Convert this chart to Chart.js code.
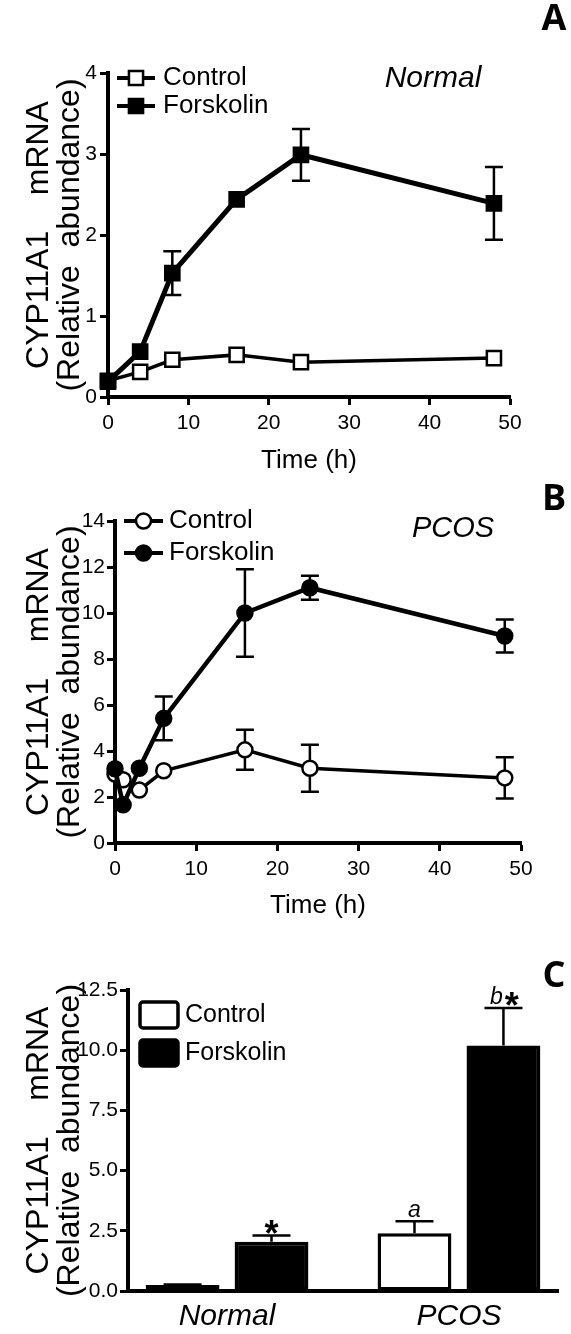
<!DOCTYPE html>
<html>
<head>
<meta charset="utf-8">
<script src="https://cdn.jsdelivr.net/npm/chart.js@4.4.1/dist/chart.umd.min.js"></script>
<style>
  body { margin: 0; background: #fff; width: 571px; height: 1334px; position: relative; overflow: hidden; }
  canvas { position: absolute; left: 0; }
</style>
</head>
<body>
<canvas id="chartA" width="571" height="480" style="top:0px"></canvas>
<canvas id="chartB" width="571" height="445" style="top:480px"></canvas>
<canvas id="chartC" width="571" height="409" style="top:925px"></canvas>
<script>
// Panel A - Normal
const timesA = [0, 4, 8, 16, 24, 48];
const controlA = [0.20, 0.31, 0.46, 0.52, 0.43, 0.48];
const controlAErr = [0.03, 0.03, 0.04, 0.04, 0.04, 0.04];
const forskolinA = [0.19, 0.56, 1.53, 2.44, 2.99, 2.39];
const forskolinAErr = [0.03, 0.05, 0.27, 0.05, 0.32, 0.45];

// Panel B - PCOS
const timesB = [0, 1, 3, 6, 16, 24, 48];
const controlB = [3.0, 2.75, 2.3, 3.14, 4.05, 3.25, 2.83];
const controlBErr = [0.2, 0.25, 0.2, 0.15, 0.87, 1.02, 0.9];
const forskolinB = [3.23, 1.66, 3.25, 5.42, 10.0, 11.1, 9.0];
const forskolinBErr = [0.2, 0.2, 0.2, 0.95, 1.9, 0.52, 0.72];

// Panel C - bars
const groupsC = ['Normal', 'PCOS'];
const controlC = [0.25, 2.4];
const controlCErr = [0.02, 0.5];
const controlCMarks = ['', 'a'];
const forskolinC = [2.05, 10.2];
const forskolinCErr = [0.25, 1.55];
const forskolinCMarks = ['*', 'b*'];

const SANS = "'Liberation Sans', Arial, sans-serif";
const yTitle = ['CYP11A1    mRNA', '(Relative  abundance)'];

function drawMark(ctx, style, x, y, r, fill, bw) {
  ctx.beginPath();
  if (style === 'rect') {
    const s = r * Math.SQRT1_2;
    ctx.rect(x - s, y - s, 2 * s, 2 * s);
  } else {
    ctx.arc(x, y, r, 0, Math.PI * 2);
  }
  ctx.fillStyle = fill;
  ctx.fill();
  ctx.lineWidth = bw;
  ctx.strokeStyle = '#000';
  ctx.stroke();
}

// error bars, drawn under the markers
const errorBars = {
  id: 'errorBars',
  beforeDatasetsDraw(chart, args, o) {
    const ctx = chart.ctx, ys = chart.scales.y;
    ctx.save();
    ctx.strokeStyle = '#000';
    ctx.lineWidth = o.width;
    chart.data.datasets.forEach((ds, i) => {
      chart.getDatasetMeta(i).data.forEach((el, j) => {
        const v = ds.data[j].y;
        const hi = ys.getPixelForValue(v + ds.errors[j]);
        const lo = o.upOnly ? el.y : ys.getPixelForValue(v - ds.errors[j]);
        if (el.y - hi < o.hide) return;
        const h = o.cap / 2;
        ctx.beginPath();
        ctx.moveTo(el.x, hi); ctx.lineTo(el.x, lo);
        ctx.moveTo(el.x - h, hi); ctx.lineTo(el.x + h, hi);
        if (!o.upOnly) { ctx.moveTo(el.x - h, lo); ctx.lineTo(el.x + h, lo); }
        ctx.stroke();
      });
    });
    ctx.restore();
  }
};

// legend: line + marker, or box
const keys = {
  id: 'keys',
  afterDraw(chart, args, o) {
    const ctx = chart.ctx;
    ctx.save();
    chart.data.datasets.forEach((ds, i) => {
      const y = o.y + i * o.step;
      if (o.box) {
        ctx.beginPath();
        ctx.roundRect(o.x, y - o.box[1] / 2, o.box[0], o.box[1], 3);
        ctx.fillStyle = ds.backgroundColor;
        ctx.fill();
        ctx.lineWidth = ds.borderWidth;
        ctx.strokeStyle = '#000';
        ctx.stroke();
      } else {
        ctx.beginPath();
        ctx.moveTo(o.x, y); ctx.lineTo(o.x + o.len, y);
        ctx.lineWidth = o.lineWidth;
        ctx.strokeStyle = '#000';
        ctx.stroke();
        drawMark(ctx, ds.pointStyle, o.x + o.len / 2, y, ds.pointRadius, ds.pointBackgroundColor, ds.pointBorderWidth);
      }
      ctx.font = o.font;
      ctx.textBaseline = 'middle';
      ctx.textAlign = 'left';
      ctx.fillStyle = '#000';
      ctx.fillText(ds.label, o.textX, y);
    });
    ctx.restore();
  }
};

// free text: panel letters and group names
const notes = {
  id: 'notes',
  afterDraw(chart, args, o) {
    const ctx = chart.ctx;
    ctx.save();
    ctx.fillStyle = '#000';
    ctx.textAlign = 'center';
    ctx.textBaseline = 'middle';
    o.items.forEach(it => {
      ctx.font = it.font;
      ctx.fillText(it.text, it.x, it.y);
    });
    ctx.restore();
  }
};

// significance marks over the bars
const barMarks = {
  id: 'barMarks',
  afterDraw(chart, args, o) {
    const ctx = chart.ctx, ys = chart.scales.y;
    ctx.save();
    ctx.fillStyle = '#000';
    ctx.textAlign = 'left';
    ctx.textBaseline = 'alphabetic';
    chart.data.datasets.forEach((ds, i) => {
      chart.getDatasetMeta(i).data.forEach((el, j) => {
        const m = ds.marks[j];
        if (!m) return;
        const base = ys.getPixelForValue(ds.data[j].y + ds.errors[j]) - o.gap;
        const letters = m.replace('*', '');
        const star = m.includes('*');
        ctx.font = o.letterFont;
        const wl = letters ? ctx.measureText(letters).width : 0;
        ctx.font = o.starFont;
        const ws = star ? ctx.measureText('*').width : 0;
        let x = el.x - (wl + ws) / 2;
        if (letters) {
          ctx.font = o.letterFont;
          ctx.fillText(letters, x, base);
          x += wl + 2;
        }
        if (star) {
          ctx.font = o.starFont;
          ctx.fillText('*', x, base + o.starDrop);
        }
      });
    });
    ctx.restore();
  }
};

function axisStyle() {
  return {
    border: { display: true, width: 4, color: '#000' },
    grid: { drawOnChartArea: false, drawTicks: true, tickLength: 8, tickWidth: 3, color: '#000' }
  };
}

function lineChart(id, times, ctrl, ctrlErr, fsk, fskErr, cfg) {
  const pts = (vals) => times.map((t, i) => ({ x: t, y: vals[i] }));
  new Chart(document.getElementById(id), {
    type: 'line',
    data: {
      datasets: [
        {
          label: 'Control', data: pts(ctrl), errors: ctrlErr, order: 1,
          borderColor: '#000', borderWidth: cfg.ctrlLine, tension: 0, clip: false,
          pointStyle: cfg.style, pointRadius: cfg.radius, pointBorderWidth: 2.5,
          pointBackgroundColor: '#fff', pointBorderColor: '#000'
        },
        {
          label: 'Forskolin', data: pts(fsk), errors: fskErr, order: 0,
          borderColor: '#000', borderWidth: cfg.fskLine, tension: 0, clip: false,
          pointStyle: cfg.style, pointRadius: cfg.radius, pointBorderWidth: 2.5,
          pointBackgroundColor: '#000', pointBorderColor: '#000'
        }
      ]
    },
    options: {
      responsive: false,
      animation: false,
      events: [],
      layout: { padding: cfg.padding },
      scales: {
        x: {
          type: 'linear', min: 0, max: 50,
          ...axisStyle(),
          ticks: { stepSize: 10, color: '#000', padding: 6, font: { family: SANS, size: 21 } },
          title: { display: true, text: 'Time (h)', color: '#000', padding: { top: 0, bottom: 4 },
                   font: { family: SANS, size: 26 } },
          afterFit: (s) => { s.height = cfg.xHeight; }
        },
        y: {
          min: 0, max: cfg.yMax,
          ...axisStyle(),
          ticks: { stepSize: cfg.yStep, color: '#000', padding: cfg.yPad, font: { family: SANS, size: 21 } },
          title: { display: true, text: yTitle, color: '#000', padding: { top: 24, bottom: 0 },
                   font: { family: SANS, size: 32, lineHeight: 0.97 } },
          afterFit: (s) => { s.width = cfg.yWidth; }
        }
      },
      plugins: {
        legend: { display: false },
        tooltip: { enabled: false },
        errorBars: { width: 2.5, cap: 18, hide: cfg.radius + 3, upOnly: false },
        keys: cfg.keys,
        notes: { items: cfg.notes }
      }
    },
    plugins: [errorBars, keys, notes]
  });
}

lineChart('chartA', timesA, controlA, controlAErr, forskolinA, forskolinAErr, {
  style: 'rect', radius: 10, ctrlLine: 3.5, fskLine: 5,
  yMax: 4, yStep: 1, yPad: 3, yWidth: 108, xHeight: 83,
  padding: { left: 0, right: 61, top: 73, bottom: 0 },
  keys: { x: 117, y: 78, step: 28, len: 38, textX: 163, lineWidth: 4, font: '26px ' + SANS },
  notes: [
    { text: 'Normal', x: 433, y: 79, font: 'italic 30px ' + SANS },
    { text: 'A', x: 554, y: 20, font: 'bold 36px "Open Sans", ' + SANS }
  ]
});

lineChart('chartB', timesB, controlB, controlBErr, forskolinB, forskolinBErr, {
  style: 'circle', radius: 7.5, ctrlLine: 3.5, fskLine: 4.5,
  yMax: 14, yStep: 2, yPad: 2, yWidth: 115, xHeight: 82,
  padding: { left: 0, right: 50, top: 41, bottom: 0 },
  keys: { x: 124, y: 41, step: 32, len: 39, textX: 169, lineWidth: 4, font: '26px ' + SANS },
  notes: [
    { text: 'PCOS', x: 453, y: 49, font: 'italic 29px ' + SANS },
    { text: 'B', x: 554, y: 20, font: 'bold 36px "Open Sans", ' + SANS }
  ]
});

const barPts = (vals) => vals.map((v, i) => ({ x: i, y: v }));
new Chart(document.getElementById('chartC'), {
  type: 'bar',
  data: {
    datasets: [
      { label: 'Control', data: barPts(controlC), errors: controlCErr, marks: controlCMarks,
        backgroundColor: '#fff', borderColor: '#000', borderWidth: 3.5, borderSkipped: false },
      { label: 'Forskolin', data: barPts(forskolinC), errors: forskolinCErr, marks: forskolinCMarks,
        backgroundColor: '#000', borderColor: '#000', borderWidth: 3.5, borderSkipped: false }
    ]
  },
  options: {
    responsive: false,
    animation: false,
    events: [],
    categoryPercentage: 0.767,
    barPercentage: 0.83,
    layout: { padding: { left: 0, right: 13, top: 65, bottom: 0 } },
    scales: {
      x: {
        type: 'linear', min: -0.427, max: 1.427, offset: false,
        border: { display: true, width: 4, color: '#000' },
        grid: { display: false, drawTicks: false, offset: false },
        afterBuildTicks: (s) => { s.ticks = groupsC.map((g, i) => ({ value: i })); },
        ticks: { color: '#000', padding: 8, callback: (v) => groupsC[v],
                 font: { family: SANS, size: 30, style: 'italic' } },
        afterFit: (s) => { s.height = 43; }
      },
      y: {
        min: 0, max: 12.5,
        ...axisStyle(),
        ticks: { stepSize: 2.5, color: '#000', padding: 2, callback: (v) => v.toFixed(1),
                 font: { family: SANS, size: 21 } },
        title: { display: true, text: yTitle, color: '#000', padding: { top: 24, bottom: 0 },
                 font: { family: SANS, size: 32, lineHeight: 0.97 } },
        afterFit: (s) => { s.width = 128; }
      }
    },
    plugins: {
      legend: { display: false },
      tooltip: { enabled: false },
      errorBars: { width: 2.5, cap: 38, hide: -1, upOnly: true },
      keys: { x: 140, y: 90, step: 38, box: [38, 26], textX: 185, font: '25px ' + SANS },
      notes: { items: [{ text: 'C', x: 554, y: 52, font: 'bold 36px "Open Sans", ' + SANS }] },
      barMarks: { gap: 4, letterFont: 'italic 23px ' + SANS, starFont: 'bold 36px ' + SANS, starDrop: 14 }
    }
  },
  plugins: [errorBars, keys, notes, barMarks]
});
</script>
</body>
</html>
